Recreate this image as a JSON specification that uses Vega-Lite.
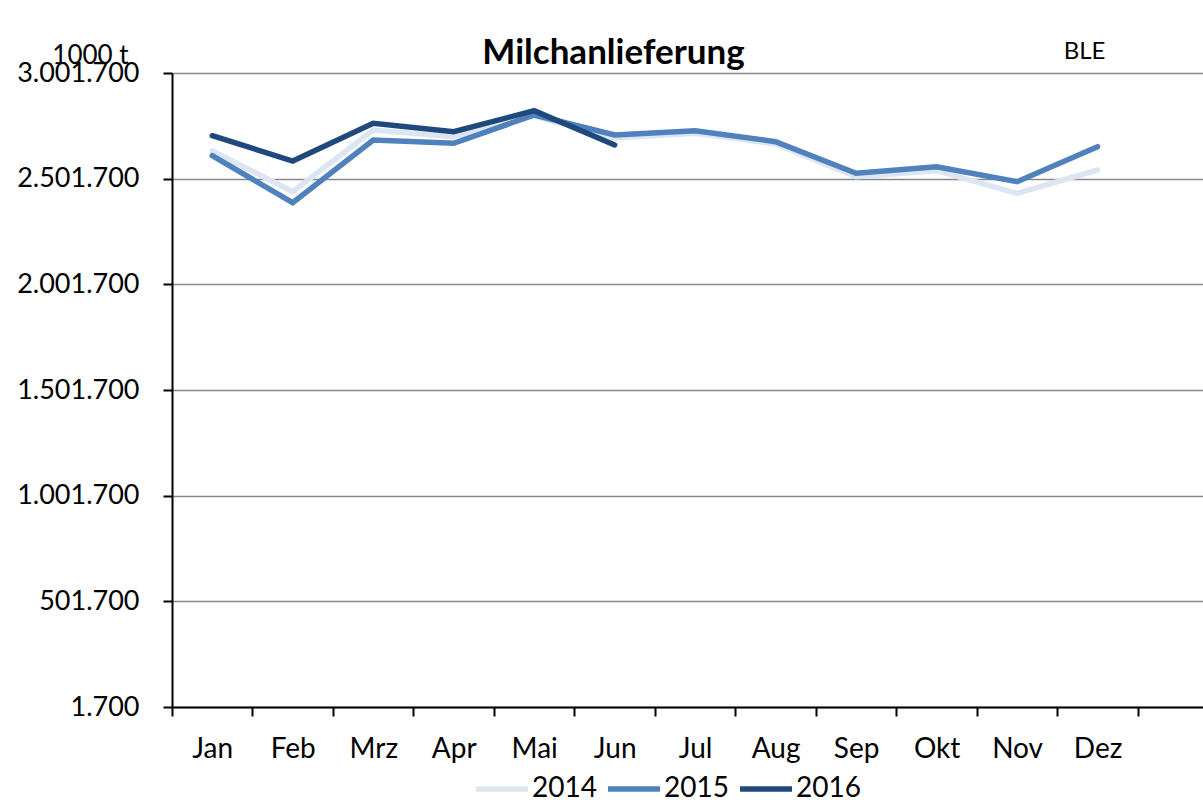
{
  "$schema": "https://vega.github.io/schema/vega-lite/v6.json",
  "autosize": {"type": "none"},
  "padding": {"left": 172, "top": 73, "right": 0, "bottom": 105},
  "width": 1031,
  "height": 634,
  "background": "white",
  "title": {
    "text": "Milchanlieferung",
    "font": "Lato",
    "fontSize": 35,
    "fontWeight": "bold",
    "color": "#000000",
    "anchor": "middle",
    "frame": "group",
    "baseline": "alphabetic",
    "offset": -60,
    "dx": -74
  },
  "data": {
    "values": [
      {"monat": 1, "jahr": "2014", "wert": 2634100},
      {"monat": 2, "jahr": "2014", "wert": 2440100},
      {"monat": 3, "jahr": "2014", "wert": 2732000},
      {"monat": 4, "jahr": "2014", "wert": 2700300},
      {"monat": 5, "jahr": "2014", "wert": 2798200},
      {"monat": 6, "jahr": "2014", "wert": 2694100},
      {"monat": 7, "jahr": "2014", "wert": 2716400},
      {"monat": 8, "jahr": "2014", "wert": 2665800},
      {"monat": 9, "jahr": "2014", "wert": 2511000},
      {"monat": 10, "jahr": "2014", "wert": 2539400},
      {"monat": 11, "jahr": "2014", "wert": 2432500},
      {"monat": 12, "jahr": "2014", "wert": 2542700},
      {"monat": 1, "jahr": "2015", "wert": 2610400},
      {"monat": 2, "jahr": "2015", "wert": 2388000},
      {"monat": 3, "jahr": "2015", "wert": 2684700},
      {"monat": 4, "jahr": "2015", "wert": 2669000},
      {"monat": 5, "jahr": "2015", "wert": 2803000},
      {"monat": 6, "jahr": "2015", "wert": 2708300},
      {"monat": 7, "jahr": "2015", "wert": 2728700},
      {"monat": 8, "jahr": "2015", "wert": 2676700},
      {"monat": 9, "jahr": "2015", "wert": 2527100},
      {"monat": 10, "jahr": "2015", "wert": 2558300},
      {"monat": 11, "jahr": "2015", "wert": 2487400},
      {"monat": 12, "jahr": "2015", "wert": 2653000},
      {"monat": 1, "jahr": "2016", "wert": 2705000},
      {"monat": 2, "jahr": "2016", "wert": 2585300},
      {"monat": 3, "jahr": "2016", "wert": 2763700},
      {"monat": 4, "jahr": "2016", "wert": 2724000},
      {"monat": 5, "jahr": "2016", "wert": 2823300},
      {"monat": 6, "jahr": "2016", "wert": 2661000}
    ]
  },
  "mark": {"type": "line", "strokeWidth": 5.5, "strokeCap": "round", "strokeJoin": "miter", "clip": false},
  "encoding": {
    "x": {
      "field": "monat",
      "type": "quantitative",
      "scale": {"domain": [0.5, 13.31], "nice": false, "zero": false},
      "axis": {
        "values": [0.5, 1.5, 2.5, 3.5, 4.5, 5.5, 6.5, 7.5, 8.5, 9.5, 10.5, 11.5, 12.5],
        "labelExpr": "['Jan','Feb','Mrz','Apr','Mai','Jun','Jul','Aug','Sep','Okt','Nov','Dez',''][floor(datum.value)]",
        "labelOffset": 40.24,
        "labelFlush": false,
        "labelOverlap": false,
        "labelBound": false,
        "labelFont": "Lato",
        "labelFontSize": 28,
        "labelColor": "#000000",
        "labelBaseline": "alphabetic",
        "labelPadding": 41,
        "tickSize": 9,
        "tickWidth": 2,
        "tickColor": "#000000",
        "domainColor": "#000000",
        "domainWidth": 2,
        "grid": false,
        "title": "BLE",
        "titleFont": "Lato",
        "titleFontSize": 24,
        "titleFontWeight": "normal",
        "titleColor": "#000000",
        "titleX": 912,
        "titleY": -649,
        "titleAlign": "center",
        "titleBaseline": "alphabetic",
        "titleAnchor": null
      }
    },
    "y": {
      "field": "wert",
      "type": "quantitative",
      "scale": {"domain": [1700, 3001700], "nice": false, "zero": false},
      "axis": {
        "values": [1700, 501700, 1001700, 1501700, 2001700, 2501700, 3001700],
        "format": ",d",
        "labelFont": "Lato",
        "labelFontSize": 27,
        "labelColor": "#000000",
        "labelPadding": 24,
        "labelOverlap": false,
        "labelBound": false,
        "labelFlush": false,
        "tickSize": 9,
        "tickWidth": 2,
        "tickColor": "#000000",
        "domainColor": "#000000",
        "domainWidth": 2,
        "grid": true,
        "gridColor": "#878787",
        "gridWidth": 1.5,
        "title": "1000 t",
        "titleFont": "Lato",
        "titleFontSize": 26,
        "titleFontWeight": "normal",
        "titleColor": "#000000",
        "titleAngle": 0,
        "titleX": -82,
        "titleY": -10,
        "titleAlign": "center",
        "titleBaseline": "alphabetic",
        "titleAnchor": null
      }
    },
    "color": {
      "field": "jahr",
      "type": "nominal",
      "scale": {"domain": ["2014", "2015", "2016"], "range": ["#DCE6F2", "#4F81BD", "#1F497D"]},
      "legend": {
        "title": null,
        "orient": "none",
        "direction": "horizontal",
        "legendX": 301,
        "legendY": 687,
        "padding": 0,
        "symbolType": "stroke",
        "symbolSize": 2704,
        "symbolStrokeWidth": 5.5,
        "labelFont": "Lato",
        "labelFontSize": 28,
        "labelColor": "#000000",
        "labelOffset": 1,
        "columnPadding": 0
      }
    }
  },
  "config": {
    "locale": {"number": {"decimal": ",", "thousands": ".", "grouping": [3], "currency": ["", " €"]}},
    "view": {"stroke": null},
    "axis": {"gridCap": "butt"}
  }
}
